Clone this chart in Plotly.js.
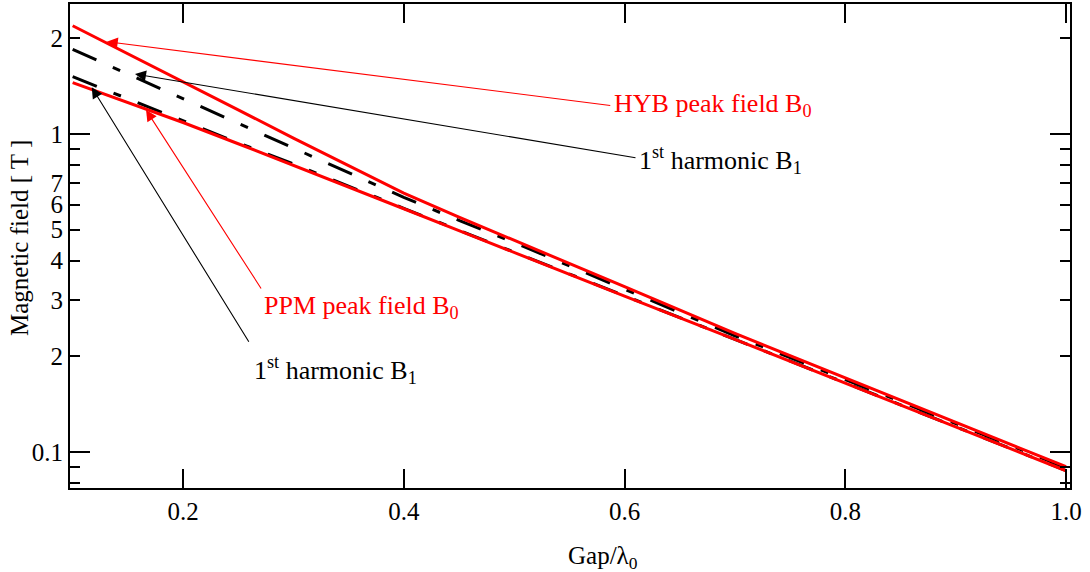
<!DOCTYPE html>
<html>
<head>
<meta charset="utf-8">
<script src="https://cdn.plot.ly/plotly-3.0.1.min.js"></script>
<style>
  html, body { margin: 0; padding: 0; background: #ffffff; }
  #chart { width: 1090px; height: 572px; }
</style>
</head>
<body>
<div id="chart"></div>
<script>
// ---- data ----
const gap     = [0.10, 0.15, 0.20, 0.25, 0.30, 0.35, 0.40, 0.45, 0.50, 0.60, 0.70, 0.80, 0.90, 1.00];
const hybPeak = [2.19, 1.79, 1.46, 1.191, 0.971, 0.796, 0.652, 0.548, 0.464, 0.331, 0.236, 0.171, 0.124, 0.0899];
const ppmPeak = [1.450, 1.258, 1.087, 0.932, 0.798, 0.682, 0.582, 0.497, 0.424, 0.309, 0.226, 0.165, 0.120, 0.0873];
const hybHarm = [1.846, 1.544, 1.292, 1.080, 0.904, 0.756, 0.632, 0.535, 0.456, 0.325, 0.232, 0.169, 0.123, 0.0893];
const ppmHarm = [1.514, 1.289, 1.103, 0.938, 0.805, 0.684, 0.584, 0.498, 0.425, 0.309, 0.226, 0.165, 0.120, 0.0874];

const xTickVals = [0.2, 0.4, 0.6, 0.8, 1.0];
const xTickText = ['0.2', '0.4', '0.6', '0.8', '1.0'];
const yTickVals = [0.08, 0.09, 0.1, 0.2, 0.3, 0.4, 0.5, 0.6, 0.7, 0.8, 0.9, 1, 2];
const yTickText = ['', '', '0.1', '2', '3', '4', '5', '6', '7', '', '', '1', '2'];
const yDecadeVals = [0.1, 1];

const labelHybPeak = 'HYB peak field B<sub>0</sub>';
const labelHybHarm = '1<sup>st</sup> harmonic B<sub>1</sub>';
const labelPpmPeak = 'PPM peak field B<sub>0</sub>';
const labelPpmHarm = '1<sup>st</sup> harmonic B<sub>1</sub>';
const xTitle = 'Gap/λ<sub>0</sub>';
const yTitle = 'Magnetic field [ T ]';

// ---- styling ----
const FONT = '"Liberation Serif", "Times New Roman", Times, serif';
const RED = '#ff0000';
const BLACK = '#000000';
const DASHDOT = '26px,18px,8px,18px';

const traces = [
  {x: gap, y: hybHarm, type: 'scatter', mode: 'lines', name: 'HYB B1',
   line: {color: BLACK, width: 3, dash: DASHDOT}, hoverinfo: 'skip'},
  {x: gap, y: ppmHarm, type: 'scatter', mode: 'lines', name: 'PPM B1',
   line: {color: BLACK, width: 3, dash: DASHDOT}, hoverinfo: 'skip'},
  {x: gap, y: hybPeak, type: 'scatter', mode: 'lines', name: 'HYB B0',
   line: {color: RED, width: 3}, hoverinfo: 'skip'},
  {x: gap, y: ppmPeak, type: 'scatter', mode: 'lines', name: 'PPM B0',
   line: {color: RED, width: 3}, hoverinfo: 'skip'},
  {x: [], y: [], type: 'scatter', mode: 'lines', yaxis: 'y2', hoverinfo: 'skip', showlegend: false}
];

const yRange = [-1.1132, 0.4088];

function arrow(x, ly, ax, ay, color) {
  return {x: x, y: ly, xref: 'x', yref: 'y', ax: ax, ay: ay, text: '',
          showarrow: true, arrowhead: 2, arrowsize: 2, arrowwidth: 1.1,
          arrowcolor: color, standoff: 0, startstandoff: 0};
}
function label(x, ly, text, color) {
  return {x: x, y: ly, xref: 'x', yref: 'y', text: text, showarrow: false,
          xanchor: 'left', yanchor: 'middle',
          font: {family: FONT, size: 26, color: color}};
}

const layout = {
  width: 1090, height: 572,
  margin: {l: 70, r: 20, t: 4, b: 84},
  paper_bgcolor: '#ffffff', plot_bgcolor: '#ffffff',
  showlegend: false,
  font: {family: FONT, size: 25, color: BLACK},
  xaxis: {
    range: [0.0976, 1.0036],
    tickmode: 'array', tickvals: xTickVals, ticktext: xTickText,
    ticks: 'inside', ticklen: 19, tickwidth: 2, tickcolor: BLACK,
    showline: true, linewidth: 2, linecolor: BLACK, mirror: 'ticks',
    showgrid: false, zeroline: false,
    tickfont: {family: FONT, size: 25, color: BLACK}
  },
  yaxis: {
    type: 'log', range: yRange,
    tickmode: 'array', tickvals: yTickVals, ticktext: yTickText,
    ticks: 'inside', ticklen: 10, tickwidth: 2, tickcolor: BLACK,
    showline: true, linewidth: 2, linecolor: BLACK, mirror: 'ticks',
    showgrid: false, zeroline: false,
    tickfont: {family: FONT, size: 25, color: BLACK}
  },
  yaxis2: {
    type: 'log', range: yRange, overlaying: 'y', anchor: 'x', side: 'left',
    tickmode: 'array', tickvals: yDecadeVals,
    ticks: 'inside', ticklen: 20, tickwidth: 2, tickcolor: BLACK,
    showticklabels: false,
    showline: true, linewidth: 2, linecolor: BLACK, mirror: 'ticks',
    showgrid: false, zeroline: false
  },
  annotations: [
    arrow(0.1309, 0.2903, 505, 64, RED),
    arrow(0.1565, 0.1887, 502, 84, BLACK),
    arrow(0.1665, 0.0755, 116, 180, RED),
    arrow(0.1173, 0.1469, 158, 256, BLACK),
    label(0.5887, 0.0912, labelHybPeak, RED),
    label(0.6111, -0.0833, labelHybHarm, BLACK),
    label(0.2713, -0.5440, labelPpmPeak, RED),
    label(0.2623, -0.7421, labelPpmHarm, BLACK),
    {xref: 'paper', yref: 'paper', x: 0.533, y: -0.1426, text: xTitle, showarrow: false,
     xanchor: 'center', yanchor: 'middle', font: {family: FONT, size: 25, color: BLACK}},
    {xref: 'paper', yref: 'paper', x: -0.051, y: 0.5165, text: yTitle, showarrow: false,
     textangle: -90, xanchor: 'center', yanchor: 'middle', font: {family: FONT, size: 25, color: BLACK}}
  ]
};

Plotly.newPlot('chart', traces, layout, {staticPlot: true, displayModeBar: false});
</script>
</body>
</html>
